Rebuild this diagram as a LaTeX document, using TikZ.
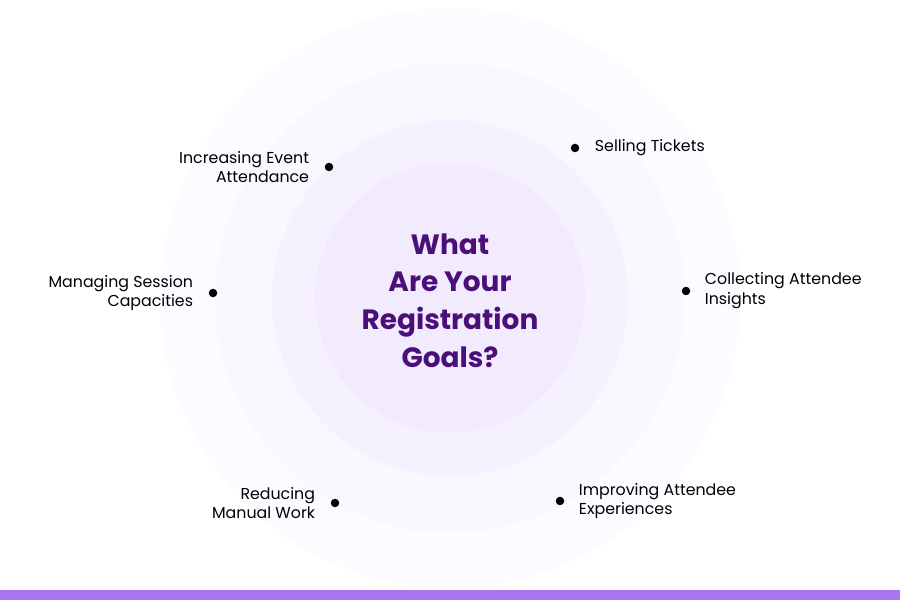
\documentclass[tikz,border=0pt]{standalone}
\usepackage{fontspec}
\setmainfont{Poppins}
\usetikzlibrary{positioning}
\xdefinecolor{titlepurple}{RGB}{75, 15, 122}
\xdefinecolor{barpurple}{RGB}{168, 117, 245}
\tikzset{
  dot/.style={circle, fill=black, inner sep=0pt, minimum size=0.17cm},
  goal/.style={font=\fontsize{9}{11.3}\selectfont, inner sep=0pt},
}
\begin{document}
\begin{tikzpicture}
            % Canvas and the soft rings behind the title
            \useasboundingbox (0,0) rectangle (18,12);
            \fill[white] (0,0) rectangle (18,12);
            \fill[barpurple] (0,0) rectangle (18,0.2);
            \fill[barpurple!3] (9,6.04) circle [radius=5.8cm];
            \fill[barpurple!6] (9,6.04) circle [radius=4.7cm];
            \fill[barpurple!10] (9,6.04) circle [radius=3.56cm];
            \fill[barpurple!15] (9,6.04) circle [radius=2.7cm];

            % Title in the centre
            \node[font=\fontsize{15.9}{21.5}\selectfont\bfseries, text=titlepurple, align=center] (Title) at (9, 5.99) {What\\Are Your\\Registration\\Goals?};

            % Goals around the rings
            \node[dot] (Attendance) at (6.58, 8.66) {};
            \node[goal, align=right, left=0.3cm of Attendance] (AttendanceText) {Increasing Event\\Attendance};

            \node[dot] (Tickets) at (11.5, 9.04) {};
            \node[goal, align=left, right=0.3cm of Tickets] (TicketsText) {Selling Tickets};

            \node[dot] (Capacities) at (4.26, 6.14) {};
            \node[goal, align=right, left=0.3cm of Capacities] (CapacitiesText) {Managing Session\\Capacities};

            \node[dot] (Insights) at (13.72, 6.18) {};
            \node[goal, align=left, right=0.28cm of Insights] (InsightsText) {Collecting Attendee\\Insights};

            \node[dot] (Manual) at (6.7, 1.94) {};
            \node[goal, align=right, left=0.3cm of Manual] (ManualText) {Reducing\\Manual Work};

            \node[dot] (Experiences) at (11.2, 1.98) {};
            \node[goal, align=left, right=0.28cm of Experiences] (ExperiencesText) {Improving Attendee\\Experiences};
\end{tikzpicture}
\end{document}
